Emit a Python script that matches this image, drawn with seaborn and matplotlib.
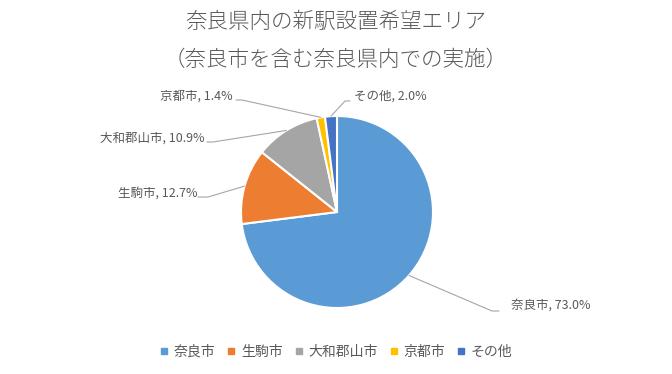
import numpy as np
import matplotlib
matplotlib.use("Agg")
import matplotlib.pyplot as plt
from matplotlib.lines import Line2D
import seaborn as sns

sns.set_theme(style="white")
plt.rcParams['font.family'] = ['Noto Sans CJK JP', 'DejaVu Sans']

# data
areas = ["奈良市", "生駒市", "大和郡山市", "京都市", "その他"]
shares = [73.0, 12.7, 10.9, 1.4, 2.0]
colors = ["#5B9BD5", "#ED7D31", "#A5A5A5", "#FFC000", "#4472C4"]
title_lines = ["奈良県内の新駅設置希望エリア", "（奈良市を含む奈良県内での実施）"]

TEXT = "#595959"
W, H = 672, 374
CX, CY, R = 337, 212, 96  # pie centre / radius in px

fig = plt.figure(figsize=(W / 100, H / 100), dpi=100)
ax = fig.add_axes([0, 0, 1, 1])

wedges, _ = ax.pie(shares, colors=colors, startangle=90, counterclock=False,
                   radius=1, wedgeprops=dict(edgecolor='white', linewidth=1.5))
ax.set_xlim(-CX / R, (W - CX) / R)
ax.set_ylim(-(H - CY) / R, CY / R)
ax.set_aspect('equal')
ax.axis('off')


def px(x, y):
  return (x - CX) / R, (CY - y) / R

# label layout: (elbow x, elbow y, horizontal stub end x, text x, text y, ha)
layout = [
  (492, 311, 499, 511, 305, 'left'),
  (208, 197, 198, 197, 193, 'right'),
  (213, 142, 207, 204, 138, 'right'),
  (242, 100, 236, 233, 96, 'right'),
  (345, 101, 350, 354, 96, 'left'),
]

for w, name, val, (ex, ey, sx, tx, ty, ha) in zip(wedges, areas, shares, layout):
  mid = np.deg2rad((w.theta1 + w.theta2) / 2)
  x0, y0 = np.cos(mid), np.sin(mid)
  x1, y1 = px(ex, ey)
  x2, y2 = px(sx, ey)
  ax.plot([x0, x1, x2], [y0, y1, y2], color="#A6A6A6", lw=0.8, zorder=1)
  lx, ly = px(tx, ty)
  ax.text(lx, ly, f"{name}, {val:.1f}%", ha=ha, va='center', fontsize=9, color=TEXT)

for i, line in enumerate(title_lines):
  fig.text(0.5, 1 - (22 + 38 * i) / H, line, ha='center', va='center',
           fontsize=15.5, color=TEXT, fontweight='light')

handles = [Line2D([0], [0], marker='s', linestyle='none', markersize=5,
                  markerfacecolor=c, markeredgecolor=c) for c in colors]
leg = fig.legend(handles, areas, loc='center', bbox_to_anchor=(0.5, 1 - 352 / H),
                 ncol=5, frameon=False, fontsize=10, handlelength=0.6,
                 handletextpad=0.4, columnspacing=0.85)
for t in leg.get_texts():
  t.set_color(TEXT)

fig.savefig("out.png", dpi=100)
